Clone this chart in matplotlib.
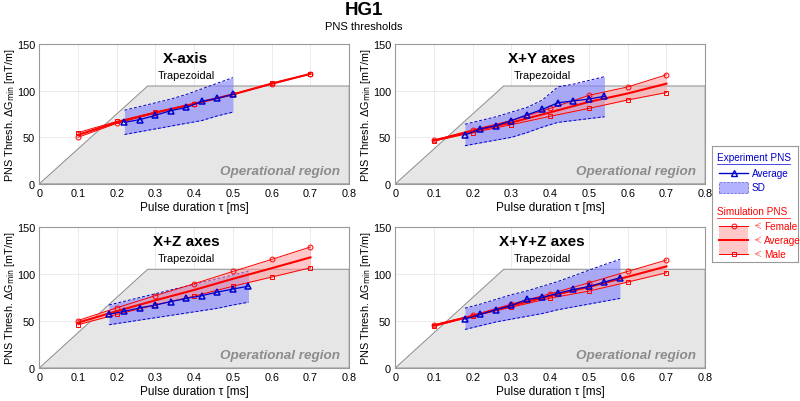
import numpy as np
import matplotlib.pyplot as plt
from matplotlib.patches import Polygon, Rectangle

# ---- data ----
panel_titles = ["X-axis", "X+Y axes", "X+Z axes", "X+Y+Z axes"]

sim_tau = [0.1, 0.2, 0.3, 0.4, 0.5, 0.6, 0.7]
sim_female = [
    [50, 65, 76, 86, 96, 107, 118],
    [47, 58, 68, 81, 95, 104, 117],
    [50.5, 64, 77, 89.6, 102.7, 115.5, 128.7],
    [46, 56, 68, 79, 90.6, 102.7, 114.8],
]
sim_male = [
    [55, 67, 77, 86, 96, 108, 118],
    [46, 55, 63.6, 72.5, 81, 90, 98],
    [46, 57, 67, 76.4, 87, 96.7, 106.6],
    [44.4, 55, 64.7, 74.3, 81.8, 91.4, 101.3],
]

exp_tau = [
    [0.22, 0.26, 0.30, 0.34, 0.38, 0.42, 0.46, 0.50],
    [0.18, 0.22, 0.26, 0.30, 0.34, 0.38, 0.42, 0.46, 0.50, 0.54],
    [0.18, 0.22, 0.26, 0.30, 0.34, 0.38, 0.42, 0.46, 0.50, 0.54],
    [0.18, 0.22, 0.26, 0.30, 0.34, 0.38, 0.42, 0.46, 0.50, 0.54, 0.58],
]
exp_avg = [
    [66, 69, 73.6, 78.6, 82, 88.6, 91.8, 96],
    [52.5, 59, 62.5, 68, 74, 80, 87, 89, 91, 94],
    [57, 60.4, 64, 67, 70.7, 74, 77, 80.7, 84, 87],
    [52, 57, 62, 66.5, 73, 75, 79.6, 83.5, 86.7, 91.4, 96],
]
exp_upper = [
    [79, 83, 87, 91, 96, 102, 108, 114],
    [64, 68, 72, 77, 82, 90, 104, 107, 111, 115],
    [67, 71, 75, 79, 83, 87, 91, 95, 99, 103],
    [63.6, 68, 73, 78, 82, 87, 92, 98, 104, 110, 115.5],
]
exp_lower = [
    [53, 56, 59, 62, 65, 68, 73, 77],
    [41, 44, 47, 50, 55, 61, 66, 68, 70, 72],
    [46, 48.5, 51, 53.5, 56, 58.5, 61, 63.5, 67, 70],
    [41, 45, 49, 52, 55, 58, 62, 65, 68, 71, 74],
]

# operational region (gradient limit / slew limit)
op_tau = [0, 0.28, 0.8, 0.8]
op_g = [0, 105, 105, 0]

RED = "#ff0000"
BLUE = "#0000cc"
FS = 7.8

plt.rcParams['font.family'] = ['Liberation Sans', 'DejaVu Sans']

fig = plt.figure(figsize=(8, 4.02), dpi=100)

positions = [
    [0.049, 0.540, 0.3875, 0.348],
    [0.494, 0.540, 0.3875, 0.348],
    [0.049, 0.082, 0.3875, 0.351],
    [0.494, 0.082, 0.3875, 0.351],
]

for i, pos in enumerate(positions):
    ax = fig.add_axes(pos)
    ax.set_xlim(0, 0.8)
    ax.set_ylim(0, 150)
    ax.set_xticks(np.arange(0, 0.81, 0.1))
    ax.set_xticklabels(["0", "0.1", "0.2", "0.3", "0.4", "0.5", "0.6", "0.7", "0.8"])
    ax.set_yticks([0, 50, 100, 150])
    ax.grid(True, color="#e8e8e8", lw=0.6)
    ax.set_axisbelow(True)
    for s in ax.spines.values():
        s.set_color("#999999")
        s.set_linewidth(0.8)
    ax.tick_params(length=0, labelsize=FS, pad=3)

    ax.add_patch(Polygon(list(zip(op_tau, op_g)), closed=True,
                         facecolor="#e6e6e6", edgecolor="#8c8c8c", lw=0.7, zorder=1))
    ax.text(0.777, 14, "Operational region", ha="right", va="center",
            fontsize=9.7, fontweight="bold", style="italic", color="#8c8c8c", zorder=2)

    # experiment
    et = exp_tau[i]
    ax.fill_between(et, exp_lower[i], exp_upper[i], color="#8080ff", alpha=0.6,
                    lw=0, zorder=3)
    ax.plot(et, exp_upper[i], "--", color=BLUE, lw=0.7, dashes=(3, 2), zorder=3)
    ax.plot(et, exp_lower[i], "--", color=BLUE, lw=0.7, dashes=(3, 2), zorder=3)

    # simulation
    fem = np.array(sim_female[i])
    mal = np.array(sim_male[i])
    avg = (fem + mal) / 2
    ax.fill_between(sim_tau, fem, mal, color="#ff9999", alpha=0.55, lw=0, zorder=4)
    ax.plot(sim_tau, fem, "-o", color=RED, lw=0.7, ms=3.5, mfc="none", mew=0.7, zorder=5)
    ax.plot(sim_tau, mal, "-s", color=RED, lw=0.7, ms=3.5, mfc="none", mew=0.7, zorder=5)
    ax.plot(sim_tau, avg, "-", color=RED, lw=1.5, zorder=5)

    ax.plot(et, exp_avg[i], "-^", color=BLUE, lw=0.9, ms=4.5, mfc="none", mew=1.1, zorder=6)

    ax.text(0.473, 0.9, panel_titles[i], transform=ax.transAxes, ha="center",
            va="center", fontsize=11, fontweight="bold", zorder=7)
    ax.text(0.473, 0.78, "Trapezoidal", transform=ax.transAxes, ha="center",
            va="center", fontsize=7.8, zorder=7)

    ax.set_xlabel("Pulse duration \u03c4 [ms]", fontsize=8.5, labelpad=2)
    ax.set_ylabel("PNS Thresh. \u0394G$_{\\mathrm{min}}$ [mT/m]", fontsize=7.8)
    ax.yaxis.set_label_coords(-0.073, 0.5)

fig.text(0.455, 0.975, "HG1", ha="center", va="center", fontsize=13.5, fontweight="bold")
fig.text(0.455, 0.932, "PNS thresholds", ha="center", va="center", fontsize=8)

# ---- custom legend ----
lg = fig.add_axes([0.890, 0.346, 0.108, 0.288])
lg.set_xlim(0, 1)
lg.set_ylim(0, 1)
lg.set_xticks([])
lg.set_yticks([])
for s in lg.spines.values():
    s.set_color("#999999")

LFS = 7.2
lg.text(0.06, 0.904, "Experiment PNS", color=BLUE, fontsize=LFS, va="center")
lg.plot([0.06, 0.90], [0.843, 0.843], color=BLUE, lw=0.5)
lg.plot([0.08, 0.42], [0.765, 0.765], "-", color=BLUE, lw=1.0)
lg.plot([0.25], [0.765], "^", color=BLUE, mfc="none", ms=4.5, mew=1.0)
lg.text(0.46, 0.765, "Average", color=BLUE, fontsize=LFS, va="center")
lg.add_patch(Rectangle((0.08, 0.598), 0.34, 0.09, facecolor="#8080ff", alpha=0.6,
                       edgecolor=BLUE, ls="--", lw=0.5))
lg.text(0.46, 0.643, "SD", color=BLUE, fontsize=LFS, va="center")

lg.text(0.06, 0.443, "Simulation PNS", color=RED, fontsize=LFS, va="center")
lg.plot([0.06, 0.90], [0.383, 0.383], color=RED, lw=0.5)
lg.add_patch(Rectangle((0.08, 0.07), 0.34, 0.243, facecolor="#ff9999", alpha=0.55, lw=0))
lg.plot([0.08, 0.42], [0.313, 0.313], "-", color=RED, lw=0.7)
lg.plot([0.25], [0.313], "o", color=RED, mfc="none", ms=3.5, mew=0.7)
lg.plot([0.08, 0.42], [0.191, 0.191], "-", color=RED, lw=1.4)
lg.plot([0.08, 0.42], [0.07, 0.07], "-", color=RED, lw=0.7)
lg.plot([0.25], [0.07], "s", color=RED, mfc="none", ms=3.5, mew=0.7)
for yy, lab in [(0.313, "Female"), (0.191, "Average"), (0.07, "Male")]:
    lg.annotate("", xy=(0.46, yy), xytext=(0.58, yy),
                arrowprops=dict(arrowstyle="->", color="#ff6666", lw=0.5))
    lg.text(0.6, yy, lab, color=RED, fontsize=LFS, va="center")

fig.savefig("out.png", dpi=100)
